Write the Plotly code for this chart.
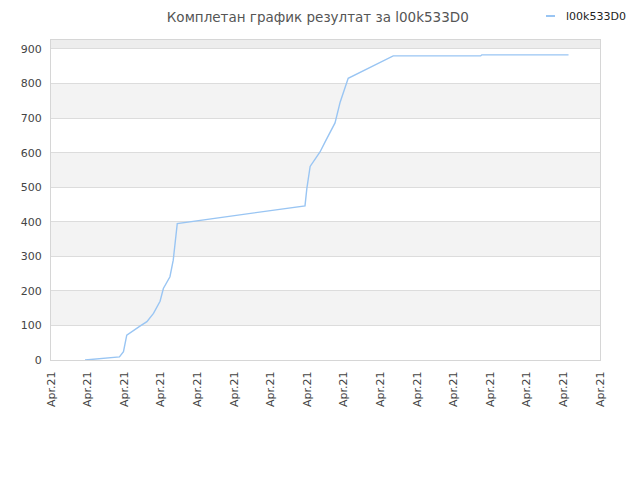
import plotly.graph_objects as go

# results over time (x in tick units, y = points)
x_vals = [0.93, 1.47, 1.87, 1.98, 2.07, 2.43, 2.62, 2.80, 2.98, 3.07, 3.25, 3.34, 3.39, 3.45,
          6.94, 6.99, 7.08, 7.35, 7.49, 7.76, 7.90, 8.12, 9.35, 11.74, 11.77, 14.14]
y_vals = [0, 4, 9, 24, 72, 98, 111, 135, 170, 207, 241, 289, 347, 395,
          446, 496, 560, 602, 631, 686, 746, 815, 880, 880, 883, 883]

x_ticks = list(range(16))
x_labels = ["Apr.21"] * 16
y_ticks = [0, 100, 200, 300, 400, 500, 600, 700, 800, 900]

series_name = "l00k533D0"
title = "Комплетан график резултат за l00k533D0"
line_color = "#99c5f3"

fig = go.Figure()
fig.add_trace(go.Scatter(x=x_vals, y=y_vals, mode="lines", name=series_name,
                         line=dict(color=line_color, width=1.4), showlegend=False))

# alternating bands
for i, t in enumerate(y_ticks):
    if i % 2 == 1:
        fig.add_shape(type="rect", xref="paper", yref="y", x0=0, x1=1, y0=t, y1=t + 100,
                      fillcolor="#f3f3f3", line_width=0, layer="below")
fig.add_shape(type="rect", xref="paper", yref="y", x0=0, x1=1, y0=900, y1=1000,
              fillcolor="#ededed", line_width=0, layer="below")

# legend drawn by hand so it doesn't push the margins
leg_y = (360 - 16) / 320
fig.add_shape(type="line", xref="paper", yref="paper", x0=(546 - 51) / 549, x1=(555 - 51) / 549,
              y0=leg_y, y1=leg_y, line=dict(color=line_color, width=2))
fig.add_annotation(text=series_name, xref="paper", yref="paper", x=(564 - 51) / 549,
                   y=leg_y, xanchor="left", yanchor="middle",
                   showarrow=False, font=dict(size=11, color="#222"))

# page body has an 8px margin, so the plot area is offset by it
fig.update_layout(
    width=640, height=480,
    margin=dict(l=43, r=48, t=32, b=128, autoexpand=False),
    paper_bgcolor="white", plot_bgcolor="white",
    font=dict(family="DejaVu Sans", color="#444", size=11),
    title=dict(text=title, x=0.484, xanchor="center", y=0.99, yanchor="top",
               font=dict(size=13.5, color="#555")),
    showlegend=False,
    xaxis=dict(range=[0, 15], tickmode="array", tickvals=x_ticks, ticktext=x_labels,
               tickangle=-90, showgrid=False, zeroline=False, automargin=False,
               showline=True, mirror=True, linecolor="#d6d6d6", ticks="outside",
               ticklen=6, tickcolor="white", tickfont=dict(size=11, color="#444")),
    yaxis=dict(range=[0, 926], tickmode="array", tickvals=y_ticks, automargin=False,
               showgrid=True, gridcolor="#dcdcdc", zeroline=False,
               showline=True, mirror=True, linecolor="#d6d6d6",
               ticks="outside", ticklen=6, tickcolor="white",
               tickfont=dict(size=11, color="#444")),
)

fig.write_html("out.html")
